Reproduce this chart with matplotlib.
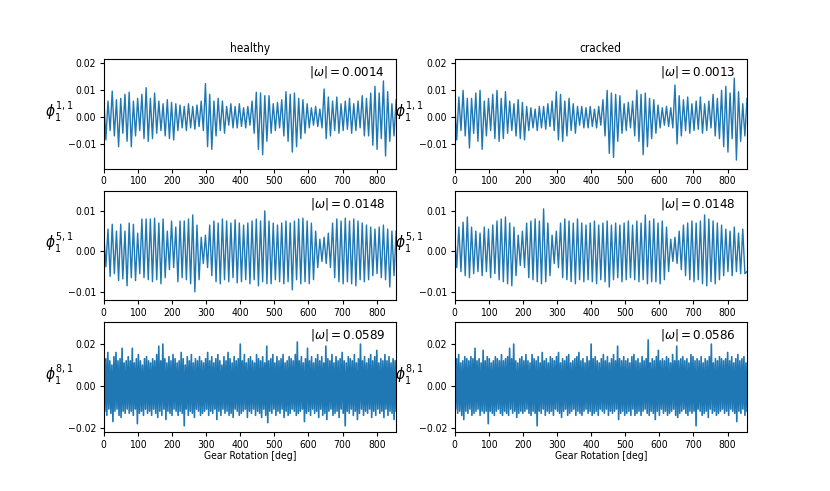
import numpy as np
import matplotlib
matplotlib.use("Agg")
import matplotlib.pyplot as plt

plt.rcParams['font.family'] = ['DejaVu Sans']
plt.rcParams['font.stretch'] = 'condensed'

# ---------------- data (values in units of 1e-3) ----------------
columns = ["healthy", "cracked"]
row_labels = [r"$\phi_1^{1,1}$", r"$\phi_1^{5,1}$", r"$\phi_1^{8,1}$"]
omega_labels = [["0.0014", "0.0013"], ["0.0148", "0.0148"], ["0.0589", "0.0586"]]
x_max = 857

# row 1 (phi 1,1): alternating peaks / troughs
r1_h_hi = [7.5, 6, 9.7, 6.5, 7, 8.5, 9.3, 6, 7, 8.5, 11, 7, 9, 6, 5, 6.5, 5.5, 5, 4.5, 4,
           5, 4, 4.5, 6, 12.5, 8.5, 6, 7, 6, 4, 5, 4, 5, 3.5, 4, 6, 9.3, 9, 8, 8,
           5, 5.5, 6.5, 9.5, 8.5, 9, 7, 6.5, 5, 3.5, 4, 3, 10.5, 7.5, 6, 7.5, 5, 6, 7, 5,
           6, 8, 7, 9, 11.5, 9, 13.5, 9.5, 5]
r1_h_lo = [-8.5, -5, -7, -11, -6, -9, -11, -7, -5, -8, -9, -8, -6, -5, -7, -8, -8.5, -5, -4, -5,
           -4, -4.5, -3.5, -5, -11, -12, -7, -5, -6, -3, -4, -4, -3.5, -4, -3, -6, -12, -14, -9, -6,
           -5, -4, -7, -9, -13, -11, -8, -6, -4, -3, -3.5, -4, -8, -7, -5, -6, -5, -4.5, -6, -5,
           -4, -7, -7, -10.5, -12, -8, -14.5, -9, -7]
r1_h_end = 6.5

r1_c_hi = [7, 7.5, 10, 7, 7, 9, 10, 6, 7, 8.5, 10, 7, 9.5, 6, 5, 6.5, 5.5, 4, 3.5, 3,
           4, 4, 5, 6, 9.5, 8.5, 6, 7, 5, 4, 4, 3.5, 4, 3, 4, 6.5, 10, 9, 8.5, 8,
           5, 5.5, 6, 10, 8.5, 9, 7, 6.5, 4.5, 3.5, 4, 3.5, 12, 8, 6.5, 7.5, 5, 6, 7.5, 5,
           6, 8.5, 7, 10, 11.5, 9, 14.5, 9.5, 5]
r1_c_lo = [-8.5, -5, -7, -11.5, -6, -9, -12, -7, -5, -8, -9, -8, -6, -5, -7, -8, -8.5, -5, -4, -5,
           -4, -4.5, -3.5, -5, -8.5, -9, -7, -5, -6, -3, -4, -4, -3.5, -4, -3, -7, -13.5, -15, -9, -6,
           -5, -4, -7, -9, -14, -11, -8, -6, -4, -3, -3.5, -4, -10, -7, -5, -6, -5, -4.5, -6, -5,
           -4, -7, -8, -11, -13, -8, -16, -9, -7]
r1_c_end = 7

# row 2 (phi 5,1)
r2_h_hi = [4.3, 5.5, 6.7, 5, 6.7, 5, 7, 6.7, 4.5, 8, 8, 8, 8.2, 7, 8, 5, 7.5, 6, 7.5, 7.5,
           8, 9, 6.5, 3.5, 4, 6.5, 7.5, 7, 8, 7.5, 7, 7.8, 7, 6.5, 7, 7.5, 8, 7.5, 10, 7.5,
           7, 6.5, 7, 7.5, 7, 7.5, 8, 8.2, 7.5, 7, 5, 3, 3.5, 4.5, 7, 8, 7.5, 8.2, 7.5, 8,
           7.5, 7, 6.5, 6, 5.5, 6, 6.5, 5.5, 5]
r2_h_lo = [-3.8, -6.2, -5.5, -7.2, -6.8, -8.5, -6.5, -7.2, -5.5, -6.5, -7, -7.5, -7, -8, -6.5, -4.5, -4, -7.5, -6.5, -7,
           -8, -10, -7, -3, -4, -6, -7.5, -8, -7, -7.5, -6.5, -7.8, -7.5, -7, -8, -7, -8.5, -7.5, -8, -8,
           -7, -7.5, -8, -7.5, -9.5, -7, -8, -7.5, -8, -7, -4, -2.5, -3, -4, -6.5, -7.5, -8, -7.5, -8, -8.5,
           -7, -7.5, -7, -6, -5.5, -6.5, -7, -8.8, -6]
r2_h_end = 5

r2_c_hi = [4.5, 6, 7.2, 8.5, 6, 5, 4.5, 6, 5.5, 6.5, 7.5, 8, 8.5, 7, 6, 4, 5, 7, 7.5, 8,
           7.5, 10.5, 7, 4, 5, 7, 8, 7.5, 7, 8, 7, 6.5, 7, 7.5, 6.5, 7, 7.5, 6.5, 7, 6.5,
           7, 7.5, 6.5, 7.5, 7, 9, 7.5, 8, 7, 7.5, 6, 3, 3.5, 5, 6.5, 7, 7.5, 7, 7.5, 9,
           8, 7.5, 7, 6.5, 5.5, 5, 6, 4.5, 5.5]
r2_c_lo = [-4, -5, -6, -6.5, -5.5, -5, -6, -5, -6.5, -5.5, -7, -7.5, -8, -8.5, -6, -3.5, -4, -6.5, -7, -7.5,
           -8, -7.5, -6, -3, -4, -6.5, -7, -7.5, -8, -7, -7.5, -7, -7.5, -8, -7, -7.5, -8.8, -7, -6.5, -7.5,
           -7, -6.5, -7, -7.5, -7, -8, -7.5, -7.5, -8, -7, -5, -2.5, -3, -4.5, -6, -7, -7.5, -7, -8, -8.5,
           -7.5, -8, -7, -6, -5, -6, -5, -5.5, -5.5]
r2_c_end = -5

# row 3 (phi 8,1): upper and lower excursions of the dense band
r3_h_hi = [11, 13, 16, 12, 10, 14, 16, 12, 13, 18, 11, 12,
           14, 12, 18, 11, 13, 15, 12, 10, 13, 14, 12, 11,
           13, 12, 15, 19, 12, 20, 13, 11, 14, 12, 15, 13,
           11, 12, 16, 13, 10, 14, 12, 15, 11, 13, 12, 14,
           12, 11, 13, 16, 12, 14, 11, 13, 15, 12, 10, 14,
           12, 16, 13, 11, 14, 12, 13, 20, 12, 15, 11, 13,
           14, 12, 11, 15, 13, 12, 14, 11, 19, 12, 13, 15,
           11, 14, 12, 13, 15, 11, 12, 14, 13, 12, 15, 21,
           12, 14, 11, 13, 18, 12, 14, 11, 13, 15, 12, 14,
           11, 19, 13, 12, 15, 11, 14, 12, 13, 16, 12, 11,
           14, 13, 12, 15, 11, 13, 20, 12, 14, 11, 13, 15,
           12, 14, 17, 11, 13, 12, 15, 12, 14, 11, 13, 12]
r3_h_lo = [-12, -14, -11, -13, -17, -12, -11, -14, -15, -12, -13, -11,
           -13, -12, -14, -11, -18, -13, -12, -14, -11, -13, -12, -14,
           -11, -13, -15, -12, -14, -11, -16, -12, -13, -14, -11, -12,
           -14, -12, -13, -19, -11, -14, -12, -13, -15, -11, -12, -14,
           -13, -12, -11, -14, -12, -13, -11, -16, -12, -14, -11, -13,
           -12, -14, -13, -15, -11, -12, -14, -13, -12, -11, -15, -12,
           -13, -11, -14, -12, -13, -15, -11, -14, -17.5, -12, -13, -11,
           -14, -12, -13, -11, -15, -12, -14, -13, -11, -12, -14, -13,
           -12, -11, -17, -13, -12, -14, -11, -13, -12, -15, -11, -14,
           -13, -16, -12, -11, -14, -13, -12, -15, -11, -13, -19, -12,
           -13, -11, -14, -12, -16, -13, -11, -14, -12, -13, -11, -15,
           -12, -14, -11, -13, -12, -15, -11, -14, -12, -13, -16, -12]

r3_c_hi = [12, 13, 15, 11, 12, 14, 13, 12, 14, 13, 18, 12,
           13, 11, 17, 12, 14, 13, 11, 12, 14, 13, 12, 15,
           12, 13, 14, 18, 13, 20, 12, 11, 13, 14, 12, 15,
           12, 11, 15, 13, 12, 14, 11, 16, 12, 13, 11, 14,
           13, 12, 14, 16, 11, 13, 12, 14, 15, 11, 12, 13,
           14, 16, 12, 13, 11, 14, 12, 20, 13, 14, 12, 11,
           13, 15, 12, 14, 11, 13, 15, 12, 19, 13, 12, 14,
           12, 13, 11, 14, 15, 12, 13, 11, 14, 12, 13, 22,
           11, 13, 12, 14, 17, 12, 13, 12, 14, 13, 11, 15,
           12, 19, 12, 13, 14, 12, 13, 11, 15, 14, 12, 13,
           12, 14, 11, 13, 12, 14, 20, 11, 13, 12, 14, 13,
           12, 13, 16, 12, 14, 11, 13, 15, 12, 13, 14, 11]
r3_c_lo = [-11, -13, -12, -14, -16, -12, -13, -11, -14, -13, -12, -11,
           -14, -12, -13, -12, -18, -12, -13, -14, -12, -11, -13, -14,
           -12, -13, -14, -11, -13, -12, -15, -13, -12, -13, -12, -11,
           -13, -14, -12, -13, -19, -12, -13, -11, -14, -12, -13, -12,
           -14, -11, -12, -13, -15, -12, -11, -14, -13, -12, -11, -14,
           -12, -13, -14, -12, -11, -13, -12, -14, -13, -12, -14, -11,
           -12, -13, -11, -14, -12, -13, -12, -11, -16, -13, -12, -14,
           -13, -12, -14, -11, -14, -13, -12, -14, -12, -11, -13, -14,
           -12, -13, -16, -12, -14, -11, -13, -12, -14, -13, -12, -11,
           -14, -15, -13, -12, -11, -13, -14, -12, -13, -12, -19, -11,
           -12, -14, -13, -12, -15, -11, -13, -12, -14, -13, -12, -11,
           -13, -12, -14, -11, -12, -13, -17, -12, -13, -11, -14, -12]

series = [
    [(r1_h_hi, r1_h_lo, r1_h_end), (r1_c_hi, r1_c_lo, r1_c_end)],
    [(r2_h_hi, r2_h_lo, r2_h_end), (r2_c_hi, r2_c_lo, r2_c_end)],
    [(r3_h_hi, r3_h_lo, None), (r3_c_hi, r3_c_lo, None)],
]
ylims = [(-0.0192, 0.0217), (-0.0121, 0.0150), (-0.0220, 0.0304)]
yticks = [[-0.01, 0.0, 0.01, 0.02], [-0.01, 0.0, 0.01], [-0.02, 0.0, 0.02]]
xticks = [0, 100, 200, 300, 400, 500, 600, 700, 800]
line_widths = [1.0, 1.0, 1.2]
color = "#1f77b4"

fig, axes = plt.subplots(3, 2, figsize=(8.3, 4.91), dpi=100)
fig.subplots_adjust(left=0.125, right=0.9, top=0.88, bottom=0.12, hspace=0.2, wspace=0.2)

for r in range(3):
    for c in range(2):
        ax = axes[r, c]
        hi, lo, end = series[r][c]
        vals = []
        for a, b in zip(hi, lo):
            vals.extend([a, b])
        if end is not None:
            vals.append(end)
        y = np.array(vals, dtype=float) * 1e-3
        x = np.linspace(0, x_max, len(y))
        ax.plot(x, y, color=color, lw=line_widths[r])
        ax.set_xlim(0, x_max)
        ax.set_ylim(*ylims[r])
        ax.set_yticks(yticks[r])
        ax.set_xticks(xticks)
        ax.tick_params(labelsize=7.5, length=3, pad=2.5)
        ax.set_ylabel(row_labels[r], rotation=0, fontsize=11, ha='right', va='center')
        ax.yaxis.set_label_coords(-0.105, 0.52)
        ax.text(0.962, 0.88, r"$|\omega| = " + omega_labels[r][c] + "$",
                transform=ax.transAxes, ha='right', va='center', fontsize=9.5)
        if r == 0:
            ax.set_title(columns[c], fontsize=8.5, pad=5)
        if r == 2:
            ax.set_xlabel("Gear Rotation [deg]", fontsize=7.5, labelpad=1)

fig.savefig("out.png", dpi=100)
